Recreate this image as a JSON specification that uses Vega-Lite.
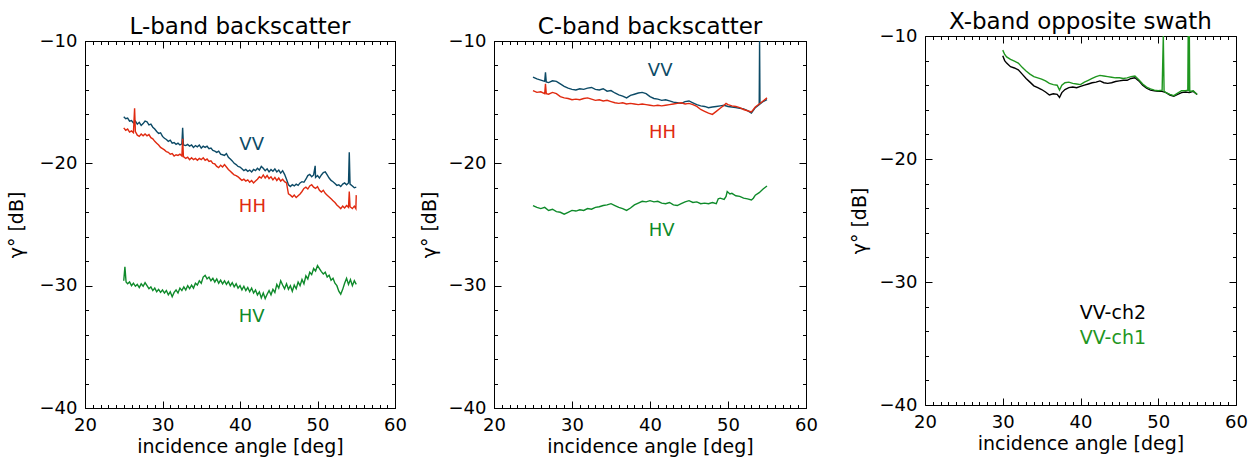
{
  "$schema": "https://vega.github.io/schema/vega-lite/v6.json",
  "background": "white",
  "padding": {"left": 6, "top": 11, "right": 0, "bottom": 0},
  "datasets": {
    "lband": [
      {"s":"VV","x":25.0,"y":-16.2},{"s":"VV","x":25.25,"y":-16.35},{"s":"VV","x":25.5,"y":-16.3},{"s":"VV","x":25.75,"y":-16.55},{"s":"VV","x":26.0,"y":-16.5},{"s":"VV","x":26.25,"y":-16.7},{"s":"VV","x":26.5,"y":-16.55},{"s":"VV","x":26.75,"y":-16.8},{"s":"VV","x":27.0,"y":-16.65},{"s":"VV","x":27.25,"y":-16.9},{"s":"VV","x":27.5,"y":-16.75},{"s":"VV","x":27.75,"y":-16.55},{"s":"VV","x":28.0,"y":-16.6},{"s":"VV","x":28.25,"y":-16.85},{"s":"VV","x":28.5,"y":-16.8},{"s":"VV","x":28.75,"y":-17.05},{"s":"VV","x":29.0,"y":-17.2},{"s":"VV","x":29.25,"y":-17.4},{"s":"VV","x":29.5,"y":-17.55},{"s":"VV","x":29.75,"y":-17.5},{"s":"VV","x":30.0,"y":-17.8},{"s":"VV","x":30.25,"y":-17.95},{"s":"VV","x":30.5,"y":-18.05},{"s":"VV","x":30.75,"y":-18.2},{"s":"VV","x":31.0,"y":-18.1},{"s":"VV","x":31.25,"y":-18.35},{"s":"VV","x":31.5,"y":-18.3},{"s":"VV","x":31.75,"y":-18.45},{"s":"VV","x":32.0,"y":-18.35},{"s":"VV","x":32.25,"y":-18.5},{"s":"VV","x":32.5,"y":-18.4},{"s":"VV","x":32.6,"y":-17.1},{"s":"VV","x":32.7,"y":-18.5},{"s":"VV","x":33.0,"y":-18.55},{"s":"VV","x":33.25,"y":-18.45},{"s":"VV","x":33.5,"y":-18.6},{"s":"VV","x":33.75,"y":-18.5},{"s":"VV","x":34.0,"y":-18.7},{"s":"VV","x":34.25,"y":-18.55},{"s":"VV","x":34.5,"y":-18.65},{"s":"VV","x":34.75,"y":-18.5},{"s":"VV","x":35.0,"y":-18.75},{"s":"VV","x":35.25,"y":-18.6},{"s":"VV","x":35.5,"y":-18.7},{"s":"VV","x":35.75,"y":-18.6},{"s":"VV","x":36.0,"y":-18.8},{"s":"VV","x":36.25,"y":-18.75},{"s":"VV","x":36.5,"y":-18.95},{"s":"VV","x":36.75,"y":-19.0},{"s":"VV","x":37.0,"y":-19.1},{"s":"VV","x":37.25,"y":-19.0},{"s":"VV","x":37.5,"y":-19.25},{"s":"VV","x":37.75,"y":-19.3},{"s":"VV","x":38.0,"y":-19.35},{"s":"VV","x":38.25,"y":-19.2},{"s":"VV","x":38.5,"y":-19.5},{"s":"VV","x":38.75,"y":-19.65},{"s":"VV","x":39.0,"y":-19.8},{"s":"VV","x":39.25,"y":-20.0},{"s":"VV","x":39.5,"y":-20.1},{"s":"VV","x":39.75,"y":-20.25},{"s":"VV","x":40.0,"y":-20.3},{"s":"VV","x":40.25,"y":-20.45},{"s":"VV","x":40.5,"y":-20.6},{"s":"VV","x":40.75,"y":-20.5},{"s":"VV","x":41.0,"y":-20.65},{"s":"VV","x":41.25,"y":-20.55},{"s":"VV","x":41.5,"y":-20.7},{"s":"VV","x":41.75,"y":-20.5},{"s":"VV","x":42.0,"y":-20.6},{"s":"VV","x":42.25,"y":-20.4},{"s":"VV","x":42.5,"y":-20.55},{"s":"VV","x":42.75,"y":-20.25},{"s":"VV","x":43.0,"y":-20.4},{"s":"VV","x":43.25,"y":-20.6},{"s":"VV","x":43.5,"y":-20.45},{"s":"VV","x":43.75,"y":-20.7},{"s":"VV","x":44.0,"y":-20.5},{"s":"VV","x":44.25,"y":-20.65},{"s":"VV","x":44.5,"y":-20.45},{"s":"VV","x":44.75,"y":-20.7},{"s":"VV","x":45.0,"y":-20.55},{"s":"VV","x":45.25,"y":-20.8},{"s":"VV","x":45.5,"y":-20.6},{"s":"VV","x":45.75,"y":-20.9},{"s":"VV","x":46.0,"y":-21.3},{"s":"VV","x":46.25,"y":-21.75},{"s":"VV","x":46.5,"y":-21.9},{"s":"VV","x":46.75,"y":-21.75},{"s":"VV","x":47.0,"y":-21.85},{"s":"VV","x":47.25,"y":-21.7},{"s":"VV","x":47.5,"y":-21.8},{"s":"VV","x":47.75,"y":-21.6},{"s":"VV","x":48.0,"y":-21.5},{"s":"VV","x":48.25,"y":-21.55},{"s":"VV","x":48.5,"y":-21.3},{"s":"VV","x":48.75,"y":-21.0},{"s":"VV","x":49.0,"y":-20.9},{"s":"VV","x":49.25,"y":-21.1},{"s":"VV","x":49.5,"y":-20.95},{"s":"VV","x":49.7,"y":-20.2},{"s":"VV","x":49.75,"y":-21.15},{"s":"VV","x":50.0,"y":-21.0},{"s":"VV","x":50.25,"y":-21.2},{"s":"VV","x":50.5,"y":-20.95},{"s":"VV","x":50.75,"y":-20.75},{"s":"VV","x":51.0,"y":-20.7},{"s":"VV","x":51.25,"y":-20.95},{"s":"VV","x":51.5,"y":-21.2},{"s":"VV","x":51.75,"y":-21.4},{"s":"VV","x":52.0,"y":-21.5},{"s":"VV","x":52.25,"y":-21.65},{"s":"VV","x":52.5,"y":-21.8},{"s":"VV","x":52.75,"y":-21.75},{"s":"VV","x":53.0,"y":-21.9},{"s":"VV","x":53.25,"y":-21.7},{"s":"VV","x":53.5,"y":-21.6},{"s":"VV","x":53.75,"y":-21.75},{"s":"VV","x":54.0,"y":-21.6},{"s":"VV","x":54.1,"y":-19.1},{"s":"VV","x":54.2,"y":-21.7},{"s":"VV","x":54.5,"y":-21.85},{"s":"VV","x":54.75,"y":-22.0},{"s":"VV","x":55.0,"y":-21.95},
      {"s":"HH","x":25.0,"y":-17.1},{"s":"HH","x":25.25,"y":-17.3},{"s":"HH","x":25.5,"y":-17.2},{"s":"HH","x":25.75,"y":-17.45},{"s":"HH","x":26.0,"y":-17.35},{"s":"HH","x":26.25,"y":-17.5},{"s":"HH","x":26.4,"y":-15.5},{"s":"HH","x":26.5,"y":-17.4},{"s":"HH","x":26.75,"y":-17.7},{"s":"HH","x":27.0,"y":-17.8},{"s":"HH","x":27.25,"y":-17.6},{"s":"HH","x":27.5,"y":-17.75},{"s":"HH","x":27.75,"y":-17.6},{"s":"HH","x":28.0,"y":-17.75},{"s":"HH","x":28.25,"y":-17.65},{"s":"HH","x":28.5,"y":-17.9},{"s":"HH","x":28.75,"y":-18.0},{"s":"HH","x":29.0,"y":-18.2},{"s":"HH","x":29.25,"y":-18.35},{"s":"HH","x":29.5,"y":-18.5},{"s":"HH","x":29.75,"y":-18.7},{"s":"HH","x":30.0,"y":-18.8},{"s":"HH","x":30.25,"y":-18.9},{"s":"HH","x":30.5,"y":-19.05},{"s":"HH","x":30.75,"y":-19.1},{"s":"HH","x":31.0,"y":-19.25},{"s":"HH","x":31.25,"y":-19.2},{"s":"HH","x":31.5,"y":-19.4},{"s":"HH","x":31.75,"y":-19.3},{"s":"HH","x":32.0,"y":-19.35},{"s":"HH","x":32.25,"y":-19.25},{"s":"HH","x":32.5,"y":-19.4},{"s":"HH","x":32.6,"y":-18.0},{"s":"HH","x":32.7,"y":-19.45},{"s":"HH","x":33.0,"y":-19.6},{"s":"HH","x":33.25,"y":-19.5},{"s":"HH","x":33.5,"y":-19.7},{"s":"HH","x":33.75,"y":-19.55},{"s":"HH","x":34.0,"y":-19.7},{"s":"HH","x":34.25,"y":-19.6},{"s":"HH","x":34.5,"y":-19.75},{"s":"HH","x":34.75,"y":-19.6},{"s":"HH","x":35.0,"y":-19.7},{"s":"HH","x":35.25,"y":-19.55},{"s":"HH","x":35.5,"y":-19.75},{"s":"HH","x":35.75,"y":-19.65},{"s":"HH","x":36.0,"y":-19.85},{"s":"HH","x":36.25,"y":-19.8},{"s":"HH","x":36.5,"y":-20.0},{"s":"HH","x":36.75,"y":-20.05},{"s":"HH","x":37.0,"y":-20.25},{"s":"HH","x":37.25,"y":-20.35},{"s":"HH","x":37.5,"y":-20.15},{"s":"HH","x":37.75,"y":-20.3},{"s":"HH","x":38.0,"y":-20.1},{"s":"HH","x":38.25,"y":-20.3},{"s":"HH","x":38.5,"y":-20.5},{"s":"HH","x":38.75,"y":-20.65},{"s":"HH","x":39.0,"y":-20.8},{"s":"HH","x":39.25,"y":-20.95},{"s":"HH","x":39.5,"y":-21.0},{"s":"HH","x":39.75,"y":-21.1},{"s":"HH","x":40.0,"y":-21.25},{"s":"HH","x":40.25,"y":-21.4},{"s":"HH","x":40.5,"y":-21.3},{"s":"HH","x":40.75,"y":-21.45},{"s":"HH","x":41.0,"y":-21.35},{"s":"HH","x":41.25,"y":-21.55},{"s":"HH","x":41.5,"y":-21.4},{"s":"HH","x":41.75,"y":-21.6},{"s":"HH","x":42.0,"y":-21.45},{"s":"HH","x":42.25,"y":-21.3},{"s":"HH","x":42.5,"y":-21.1},{"s":"HH","x":42.75,"y":-21.2},{"s":"HH","x":43.0,"y":-20.95},{"s":"HH","x":43.25,"y":-21.2},{"s":"HH","x":43.5,"y":-21.0},{"s":"HH","x":43.75,"y":-21.25},{"s":"HH","x":44.0,"y":-21.1},{"s":"HH","x":44.25,"y":-21.35},{"s":"HH","x":44.5,"y":-21.15},{"s":"HH","x":44.75,"y":-21.4},{"s":"HH","x":45.0,"y":-21.2},{"s":"HH","x":45.25,"y":-21.45},{"s":"HH","x":45.5,"y":-21.3},{"s":"HH","x":45.75,"y":-21.5},{"s":"HH","x":46.0,"y":-21.6},{"s":"HH","x":46.25,"y":-22.5},{"s":"HH","x":46.5,"y":-22.6},{"s":"HH","x":46.75,"y":-22.75},{"s":"HH","x":47.0,"y":-22.6},{"s":"HH","x":47.25,"y":-22.8},{"s":"HH","x":47.5,"y":-22.65},{"s":"HH","x":47.75,"y":-22.5},{"s":"HH","x":48.0,"y":-22.3},{"s":"HH","x":48.25,"y":-22.05},{"s":"HH","x":48.5,"y":-21.95},{"s":"HH","x":48.75,"y":-22.1},{"s":"HH","x":49.0,"y":-21.85},{"s":"HH","x":49.25,"y":-21.75},{"s":"HH","x":49.5,"y":-21.95},{"s":"HH","x":49.75,"y":-22.05},{"s":"HH","x":50.0,"y":-21.9},{"s":"HH","x":50.25,"y":-22.2},{"s":"HH","x":50.5,"y":-22.35},{"s":"HH","x":50.75,"y":-22.2},{"s":"HH","x":51.0,"y":-22.45},{"s":"HH","x":51.25,"y":-22.6},{"s":"HH","x":51.5,"y":-22.75},{"s":"HH","x":51.75,"y":-22.9},{"s":"HH","x":52.0,"y":-23.05},{"s":"HH","x":52.25,"y":-23.2},{"s":"HH","x":52.5,"y":-23.4},{"s":"HH","x":52.75,"y":-23.55},{"s":"HH","x":53.0,"y":-23.7},{"s":"HH","x":53.25,"y":-23.5},{"s":"HH","x":53.5,"y":-23.65},{"s":"HH","x":53.75,"y":-23.45},{"s":"HH","x":54.0,"y":-23.6},{"s":"HH","x":54.1,"y":-22.3},{"s":"HH","x":54.2,"y":-23.55},{"s":"HH","x":54.5,"y":-23.7},{"s":"HH","x":54.75,"y":-23.5},{"s":"HH","x":54.95,"y":-23.7},{"s":"HH","x":55.0,"y":-22.6},
      {"s":"HV","x":25.0,"y":-29.6},{"s":"HV","x":25.15,"y":-28.45},{"s":"HV","x":25.3,"y":-29.7},{"s":"HV","x":25.5,"y":-29.85},{"s":"HV","x":25.75,"y":-29.7},{"s":"HV","x":26.0,"y":-30.0},{"s":"HV","x":26.25,"y":-29.8},{"s":"HV","x":26.5,"y":-30.05},{"s":"HV","x":26.75,"y":-29.9},{"s":"HV","x":27.0,"y":-30.15},{"s":"HV","x":27.25,"y":-29.85},{"s":"HV","x":27.5,"y":-30.05},{"s":"HV","x":27.75,"y":-29.75},{"s":"HV","x":28.0,"y":-30.0},{"s":"HV","x":28.25,"y":-30.25},{"s":"HV","x":28.5,"y":-30.1},{"s":"HV","x":28.75,"y":-30.4},{"s":"HV","x":29.0,"y":-30.2},{"s":"HV","x":29.25,"y":-30.5},{"s":"HV","x":29.5,"y":-30.3},{"s":"HV","x":29.75,"y":-30.55},{"s":"HV","x":30.0,"y":-30.35},{"s":"HV","x":30.25,"y":-30.6},{"s":"HV","x":30.5,"y":-30.4},{"s":"HV","x":30.75,"y":-30.75},{"s":"HV","x":31.0,"y":-30.5},{"s":"HV","x":31.25,"y":-30.9},{"s":"HV","x":31.5,"y":-30.55},{"s":"HV","x":31.75,"y":-30.35},{"s":"HV","x":32.0,"y":-30.6},{"s":"HV","x":32.25,"y":-30.2},{"s":"HV","x":32.5,"y":-30.4},{"s":"HV","x":32.75,"y":-30.1},{"s":"HV","x":33.0,"y":-30.35},{"s":"HV","x":33.25,"y":-30.0},{"s":"HV","x":33.5,"y":-30.25},{"s":"HV","x":33.75,"y":-29.95},{"s":"HV","x":34.0,"y":-30.2},{"s":"HV","x":34.25,"y":-29.8},{"s":"HV","x":34.5,"y":-29.95},{"s":"HV","x":34.75,"y":-29.6},{"s":"HV","x":35.0,"y":-29.8},{"s":"HV","x":35.25,"y":-29.3},{"s":"HV","x":35.5,"y":-29.15},{"s":"HV","x":35.75,"y":-29.45},{"s":"HV","x":36.0,"y":-29.3},{"s":"HV","x":36.25,"y":-29.6},{"s":"HV","x":36.5,"y":-29.4},{"s":"HV","x":36.75,"y":-29.7},{"s":"HV","x":37.0,"y":-29.45},{"s":"HV","x":37.25,"y":-29.8},{"s":"HV","x":37.5,"y":-29.55},{"s":"HV","x":37.75,"y":-29.85},{"s":"HV","x":38.0,"y":-29.6},{"s":"HV","x":38.25,"y":-29.9},{"s":"HV","x":38.5,"y":-29.65},{"s":"HV","x":38.75,"y":-30.0},{"s":"HV","x":39.0,"y":-29.75},{"s":"HV","x":39.25,"y":-30.1},{"s":"HV","x":39.5,"y":-29.85},{"s":"HV","x":39.75,"y":-30.2},{"s":"HV","x":40.0,"y":-30.0},{"s":"HV","x":40.25,"y":-30.35},{"s":"HV","x":40.5,"y":-30.05},{"s":"HV","x":40.75,"y":-30.4},{"s":"HV","x":41.0,"y":-30.15},{"s":"HV","x":41.25,"y":-30.5},{"s":"HV","x":41.5,"y":-30.2},{"s":"HV","x":41.75,"y":-30.6},{"s":"HV","x":42.0,"y":-30.35},{"s":"HV","x":42.25,"y":-30.75},{"s":"HV","x":42.5,"y":-30.5},{"s":"HV","x":42.75,"y":-31.0},{"s":"HV","x":43.0,"y":-30.6},{"s":"HV","x":43.25,"y":-31.05},{"s":"HV","x":43.5,"y":-30.7},{"s":"HV","x":43.75,"y":-30.4},{"s":"HV","x":44.0,"y":-30.75},{"s":"HV","x":44.25,"y":-30.3},{"s":"HV","x":44.5,"y":-30.55},{"s":"HV","x":44.75,"y":-29.9},{"s":"HV","x":45.0,"y":-30.2},{"s":"HV","x":45.25,"y":-29.6},{"s":"HV","x":45.5,"y":-29.95},{"s":"HV","x":45.75,"y":-30.25},{"s":"HV","x":46.0,"y":-29.85},{"s":"HV","x":46.25,"y":-30.3},{"s":"HV","x":46.5,"y":-30.0},{"s":"HV","x":46.75,"y":-30.45},{"s":"HV","x":47.0,"y":-29.95},{"s":"HV","x":47.25,"y":-30.25},{"s":"HV","x":47.5,"y":-29.7},{"s":"HV","x":47.75,"y":-30.0},{"s":"HV","x":48.0,"y":-29.5},{"s":"HV","x":48.25,"y":-29.85},{"s":"HV","x":48.5,"y":-29.2},{"s":"HV","x":48.75,"y":-29.45},{"s":"HV","x":49.0,"y":-28.9},{"s":"HV","x":49.25,"y":-29.1},{"s":"HV","x":49.5,"y":-28.6},{"s":"HV","x":49.75,"y":-28.8},{"s":"HV","x":50.0,"y":-28.35},{"s":"HV","x":50.25,"y":-28.6},{"s":"HV","x":50.5,"y":-28.85},{"s":"HV","x":50.75,"y":-29.05},{"s":"HV","x":51.0,"y":-28.9},{"s":"HV","x":51.25,"y":-29.3},{"s":"HV","x":51.5,"y":-29.15},{"s":"HV","x":51.75,"y":-29.55},{"s":"HV","x":52.0,"y":-29.4},{"s":"HV","x":52.25,"y":-29.8},{"s":"HV","x":52.5,"y":-30.0},{"s":"HV","x":52.75,"y":-30.45},{"s":"HV","x":53.0,"y":-30.7},{"s":"HV","x":53.25,"y":-30.3},{"s":"HV","x":53.5,"y":-29.8},{"s":"HV","x":53.75,"y":-29.4},{"s":"HV","x":54.0,"y":-29.9},{"s":"HV","x":54.25,"y":-29.5},{"s":"HV","x":54.5,"y":-30.0},{"s":"HV","x":54.75,"y":-29.6},{"s":"HV","x":55.0,"y":-29.9}
    ],
    "cband": [
      {"s":"VV","x":25.0,"y":-12.95},{"s":"VV","x":25.5,"y":-13.1},{"s":"VV","x":26.0,"y":-13.2},{"s":"VV","x":26.5,"y":-13.3},{"s":"VV","x":26.6,"y":-12.55},{"s":"VV","x":26.7,"y":-13.35},{"s":"VV","x":27.0,"y":-13.4},{"s":"VV","x":27.5,"y":-13.25},{"s":"VV","x":28.0,"y":-13.3},{"s":"VV","x":28.5,"y":-13.5},{"s":"VV","x":29.0,"y":-13.7},{"s":"VV","x":29.5,"y":-13.85},{"s":"VV","x":30.0,"y":-13.95},{"s":"VV","x":30.5,"y":-14.0},{"s":"VV","x":31.0,"y":-13.9},{"s":"VV","x":31.5,"y":-13.95},{"s":"VV","x":32.0,"y":-13.85},{"s":"VV","x":32.5,"y":-13.8},{"s":"VV","x":33.0,"y":-13.95},{"s":"VV","x":33.5,"y":-14.0},{"s":"VV","x":34.0,"y":-13.9},{"s":"VV","x":34.5,"y":-14.1},{"s":"VV","x":35.0,"y":-14.05},{"s":"VV","x":35.5,"y":-14.25},{"s":"VV","x":36.0,"y":-14.4},{"s":"VV","x":36.5,"y":-14.5},{"s":"VV","x":37.0,"y":-14.65},{"s":"VV","x":37.5,"y":-14.45},{"s":"VV","x":38.0,"y":-14.35},{"s":"VV","x":38.5,"y":-14.25},{"s":"VV","x":39.0,"y":-14.2},{"s":"VV","x":39.5,"y":-14.3},{"s":"VV","x":40.0,"y":-14.55},{"s":"VV","x":40.5,"y":-14.7},{"s":"VV","x":41.0,"y":-14.75},{"s":"VV","x":41.5,"y":-14.85},{"s":"VV","x":42.0,"y":-14.8},{"s":"VV","x":42.5,"y":-14.9},{"s":"VV","x":43.0,"y":-15.0},{"s":"VV","x":43.5,"y":-15.05},{"s":"VV","x":44.0,"y":-15.1},{"s":"VV","x":44.5,"y":-14.95},{"s":"VV","x":45.0,"y":-14.9},{"s":"VV","x":45.5,"y":-15.05},{"s":"VV","x":46.0,"y":-15.2},{"s":"VV","x":46.5,"y":-15.3},{"s":"VV","x":47.0,"y":-15.35},{"s":"VV","x":47.5,"y":-15.45},{"s":"VV","x":48.0,"y":-15.4},{"s":"VV","x":48.5,"y":-15.35},{"s":"VV","x":49.0,"y":-15.3},{"s":"VV","x":49.5,"y":-15.25},{"s":"VV","x":50.0,"y":-15.35},{"s":"VV","x":50.5,"y":-15.4},{"s":"VV","x":51.0,"y":-15.45},{"s":"VV","x":51.5,"y":-15.5},{"s":"VV","x":52.0,"y":-15.55},{"s":"VV","x":52.5,"y":-15.7},{"s":"VV","x":53.0,"y":-15.9},{"s":"VV","x":53.5,"y":-15.45},{"s":"VV","x":54.0,"y":-15.2},{"s":"VV","x":54.05,"y":-10},{"s":"VV","x":54.1,"y":-15.15},{"s":"VV","x":54.5,"y":-14.95},{"s":"VV","x":55.0,"y":-14.8},
      {"s":"HH","x":25.0,"y":-14.05},{"s":"HH","x":25.5,"y":-14.2},{"s":"HH","x":26.0,"y":-14.15},{"s":"HH","x":26.5,"y":-14.3},{"s":"HH","x":26.6,"y":-13.5},{"s":"HH","x":26.7,"y":-14.3},{"s":"HH","x":27.0,"y":-14.35},{"s":"HH","x":27.5,"y":-14.2},{"s":"HH","x":28.0,"y":-14.3},{"s":"HH","x":28.5,"y":-14.55},{"s":"HH","x":29.0,"y":-14.65},{"s":"HH","x":29.5,"y":-14.7},{"s":"HH","x":30.0,"y":-14.8},{"s":"HH","x":30.5,"y":-14.75},{"s":"HH","x":31.0,"y":-14.8},{"s":"HH","x":31.5,"y":-14.7},{"s":"HH","x":32.0,"y":-14.65},{"s":"HH","x":32.5,"y":-14.75},{"s":"HH","x":33.0,"y":-14.85},{"s":"HH","x":33.5,"y":-14.8},{"s":"HH","x":34.0,"y":-14.9},{"s":"HH","x":34.5,"y":-14.85},{"s":"HH","x":35.0,"y":-14.95},{"s":"HH","x":35.5,"y":-15.05},{"s":"HH","x":36.0,"y":-15.1},{"s":"HH","x":36.5,"y":-15.05},{"s":"HH","x":37.0,"y":-15.15},{"s":"HH","x":37.5,"y":-15.1},{"s":"HH","x":38.0,"y":-15.15},{"s":"HH","x":38.5,"y":-15.2},{"s":"HH","x":39.0,"y":-15.15},{"s":"HH","x":39.5,"y":-15.2},{"s":"HH","x":40.0,"y":-15.25},{"s":"HH","x":40.5,"y":-15.3},{"s":"HH","x":41.0,"y":-15.25},{"s":"HH","x":41.5,"y":-15.3},{"s":"HH","x":42.0,"y":-15.25},{"s":"HH","x":42.5,"y":-15.2},{"s":"HH","x":43.0,"y":-15.15},{"s":"HH","x":43.5,"y":-15.1},{"s":"HH","x":44.0,"y":-15.05},{"s":"HH","x":44.5,"y":-15.15},{"s":"HH","x":45.0,"y":-15.1},{"s":"HH","x":45.5,"y":-15.2},{"s":"HH","x":46.0,"y":-15.35},{"s":"HH","x":46.5,"y":-15.6},{"s":"HH","x":47.0,"y":-15.75},{"s":"HH","x":47.5,"y":-15.9},{"s":"HH","x":48.0,"y":-16.0},{"s":"HH","x":48.5,"y":-15.75},{"s":"HH","x":49.0,"y":-15.5},{"s":"HH","x":49.5,"y":-15.25},{"s":"HH","x":49.75,"y":-15.1},{"s":"HH","x":50.0,"y":-15.2},{"s":"HH","x":50.5,"y":-15.3},{"s":"HH","x":51.0,"y":-15.35},{"s":"HH","x":51.5,"y":-15.45},{"s":"HH","x":52.0,"y":-15.6},{"s":"HH","x":52.5,"y":-15.7},{"s":"HH","x":53.0,"y":-15.8},{"s":"HH","x":53.5,"y":-15.4},{"s":"HH","x":54.0,"y":-15.15},{"s":"HH","x":54.5,"y":-14.9},{"s":"HH","x":55.0,"y":-14.65},
      {"s":"HV","x":25.0,"y":-23.45},{"s":"HV","x":25.5,"y":-23.6},{"s":"HV","x":26.0,"y":-23.7},{"s":"HV","x":26.5,"y":-23.6},{"s":"HV","x":27.0,"y":-23.85},{"s":"HV","x":27.5,"y":-23.75},{"s":"HV","x":28.0,"y":-23.95},{"s":"HV","x":28.5,"y":-24.0},{"s":"HV","x":29.0,"y":-24.15},{"s":"HV","x":29.5,"y":-24.0},{"s":"HV","x":30.0,"y":-23.85},{"s":"HV","x":30.5,"y":-23.9},{"s":"HV","x":31.0,"y":-23.8},{"s":"HV","x":31.5,"y":-23.85},{"s":"HV","x":32.0,"y":-23.7},{"s":"HV","x":32.5,"y":-23.75},{"s":"HV","x":33.0,"y":-23.6},{"s":"HV","x":33.5,"y":-23.55},{"s":"HV","x":34.0,"y":-23.45},{"s":"HV","x":34.5,"y":-23.4},{"s":"HV","x":35.0,"y":-23.3},{"s":"HV","x":35.5,"y":-23.45},{"s":"HV","x":36.0,"y":-23.6},{"s":"HV","x":36.5,"y":-23.7},{"s":"HV","x":37.0,"y":-23.85},{"s":"HV","x":37.5,"y":-23.65},{"s":"HV","x":38.0,"y":-23.4},{"s":"HV","x":38.5,"y":-23.25},{"s":"HV","x":39.0,"y":-23.1},{"s":"HV","x":39.5,"y":-23.15},{"s":"HV","x":40.0,"y":-23.05},{"s":"HV","x":40.5,"y":-23.15},{"s":"HV","x":41.0,"y":-23.1},{"s":"HV","x":41.5,"y":-23.25},{"s":"HV","x":42.0,"y":-23.3},{"s":"HV","x":42.5,"y":-23.2},{"s":"HV","x":43.0,"y":-23.4},{"s":"HV","x":43.5,"y":-23.45},{"s":"HV","x":44.0,"y":-23.3},{"s":"HV","x":44.5,"y":-23.15},{"s":"HV","x":45.0,"y":-23.05},{"s":"HV","x":45.5,"y":-23.2},{"s":"HV","x":46.0,"y":-23.15},{"s":"HV","x":46.5,"y":-23.3},{"s":"HV","x":47.0,"y":-23.25},{"s":"HV","x":47.5,"y":-23.3},{"s":"HV","x":48.0,"y":-23.2},{"s":"HV","x":48.5,"y":-23.3},{"s":"HV","x":48.75,"y":-22.9},{"s":"HV","x":49.0,"y":-22.85},{"s":"HV","x":49.5,"y":-22.95},{"s":"HV","x":49.75,"y":-22.7},{"s":"HV","x":49.9,"y":-22.3},{"s":"HV","x":50.25,"y":-22.5},{"s":"HV","x":50.5,"y":-22.45},{"s":"HV","x":51.0,"y":-22.65},{"s":"HV","x":51.5,"y":-22.7},{"s":"HV","x":52.0,"y":-22.85},{"s":"HV","x":52.5,"y":-22.9},{"s":"HV","x":53.0,"y":-23.0},{"s":"HV","x":53.25,"y":-22.85},{"s":"HV","x":53.5,"y":-22.6},{"s":"HV","x":54.0,"y":-22.4},{"s":"HV","x":54.5,"y":-22.1},{"s":"HV","x":55.0,"y":-21.85}
    ],
    "xband": [
      {"s":"VV-ch2","x":30.0,"y":-11.6},{"s":"VV-ch2","x":30.25,"y":-12.0},{"s":"VV-ch2","x":30.5,"y":-12.2},{"s":"VV-ch2","x":31.0,"y":-12.5},{"s":"VV-ch2","x":31.5,"y":-12.6},{"s":"VV-ch2","x":32.0,"y":-12.75},{"s":"VV-ch2","x":32.5,"y":-13.1},{"s":"VV-ch2","x":33.0,"y":-13.45},{"s":"VV-ch2","x":33.5,"y":-13.75},{"s":"VV-ch2","x":34.0,"y":-14.05},{"s":"VV-ch2","x":34.5,"y":-14.2},{"s":"VV-ch2","x":35.0,"y":-14.35},{"s":"VV-ch2","x":35.5,"y":-14.55},{"s":"VV-ch2","x":36.0,"y":-14.8},{"s":"VV-ch2","x":36.5,"y":-14.7},{"s":"VV-ch2","x":37.0,"y":-14.75},{"s":"VV-ch2","x":37.3,"y":-15.0},{"s":"VV-ch2","x":37.6,"y":-14.6},{"s":"VV-ch2","x":38.0,"y":-14.35},{"s":"VV-ch2","x":38.5,"y":-14.2},{"s":"VV-ch2","x":39.0,"y":-14.15},{"s":"VV-ch2","x":39.5,"y":-14.2},{"s":"VV-ch2","x":40.0,"y":-14.1},{"s":"VV-ch2","x":40.5,"y":-14.0},{"s":"VV-ch2","x":41.0,"y":-13.9},{"s":"VV-ch2","x":41.5,"y":-13.8},{"s":"VV-ch2","x":42.0,"y":-13.75},{"s":"VV-ch2","x":42.5,"y":-13.65},{"s":"VV-ch2","x":43.0,"y":-13.8},{"s":"VV-ch2","x":43.5,"y":-13.85},{"s":"VV-ch2","x":44.0,"y":-13.8},{"s":"VV-ch2","x":44.5,"y":-13.7},{"s":"VV-ch2","x":45.0,"y":-13.65},{"s":"VV-ch2","x":45.5,"y":-13.6},{"s":"VV-ch2","x":46.0,"y":-13.6},{"s":"VV-ch2","x":46.5,"y":-13.45},{"s":"VV-ch2","x":47.0,"y":-13.4},{"s":"VV-ch2","x":47.5,"y":-13.65},{"s":"VV-ch2","x":48.0,"y":-14.0},{"s":"VV-ch2","x":48.5,"y":-14.25},{"s":"VV-ch2","x":49.0,"y":-14.4},{"s":"VV-ch2","x":49.5,"y":-14.45},{"s":"VV-ch2","x":50.0,"y":-14.5},{"s":"VV-ch2","x":50.5,"y":-14.5},{"s":"VV-ch2","x":51.0,"y":-14.6},{"s":"VV-ch2","x":51.5,"y":-14.8},{"s":"VV-ch2","x":52.0,"y":-14.9},{"s":"VV-ch2","x":52.5,"y":-14.75},{"s":"VV-ch2","x":53.0,"y":-14.6},{"s":"VV-ch2","x":53.5,"y":-14.55},{"s":"VV-ch2","x":54.0,"y":-14.6},{"s":"VV-ch2","x":54.5,"y":-14.5},{"s":"VV-ch2","x":55.0,"y":-14.75},
      {"s":"VV-ch1","x":30.0,"y":-11.15},{"s":"VV-ch1","x":30.25,"y":-11.5},{"s":"VV-ch1","x":30.5,"y":-11.7},{"s":"VV-ch1","x":31.0,"y":-11.9},{"s":"VV-ch1","x":31.5,"y":-12.05},{"s":"VV-ch1","x":32.0,"y":-12.2},{"s":"VV-ch1","x":32.5,"y":-12.55},{"s":"VV-ch1","x":33.0,"y":-12.85},{"s":"VV-ch1","x":33.5,"y":-13.1},{"s":"VV-ch1","x":34.0,"y":-13.3},{"s":"VV-ch1","x":34.5,"y":-13.4},{"s":"VV-ch1","x":35.0,"y":-13.5},{"s":"VV-ch1","x":35.5,"y":-13.65},{"s":"VV-ch1","x":36.0,"y":-13.85},{"s":"VV-ch1","x":36.5,"y":-13.95},{"s":"VV-ch1","x":37.0,"y":-14.0},{"s":"VV-ch1","x":37.3,"y":-14.4},{"s":"VV-ch1","x":37.6,"y":-14.0},{"s":"VV-ch1","x":38.0,"y":-13.8},{"s":"VV-ch1","x":38.5,"y":-13.75},{"s":"VV-ch1","x":39.0,"y":-13.85},{"s":"VV-ch1","x":39.5,"y":-13.9},{"s":"VV-ch1","x":40.0,"y":-13.95},{"s":"VV-ch1","x":40.5,"y":-13.75},{"s":"VV-ch1","x":41.0,"y":-13.6},{"s":"VV-ch1","x":41.5,"y":-13.45},{"s":"VV-ch1","x":42.0,"y":-13.3},{"s":"VV-ch1","x":42.5,"y":-13.2},{"s":"VV-ch1","x":43.0,"y":-13.25},{"s":"VV-ch1","x":43.5,"y":-13.3},{"s":"VV-ch1","x":44.0,"y":-13.35},{"s":"VV-ch1","x":44.5,"y":-13.4},{"s":"VV-ch1","x":45.0,"y":-13.4},{"s":"VV-ch1","x":45.5,"y":-13.45},{"s":"VV-ch1","x":46.0,"y":-13.4},{"s":"VV-ch1","x":46.5,"y":-13.3},{"s":"VV-ch1","x":47.0,"y":-13.25},{"s":"VV-ch1","x":47.5,"y":-13.55},{"s":"VV-ch1","x":48.0,"y":-13.9},{"s":"VV-ch1","x":48.5,"y":-14.15},{"s":"VV-ch1","x":49.0,"y":-14.3},{"s":"VV-ch1","x":49.5,"y":-14.4},{"s":"VV-ch1","x":50.0,"y":-14.45},{"s":"VV-ch1","x":50.5,"y":-14.4},{"s":"VV-ch1","x":50.65,"y":-10},{"s":"VV-ch1","x":50.75,"y":-14.5},{"s":"VV-ch1","x":51.0,"y":-14.6},{"s":"VV-ch1","x":51.5,"y":-14.75},{"s":"VV-ch1","x":52.0,"y":-14.85},{"s":"VV-ch1","x":52.5,"y":-14.65},{"s":"VV-ch1","x":53.0,"y":-14.45},{"s":"VV-ch1","x":53.5,"y":-14.45},{"s":"VV-ch1","x":53.8,"y":-14.4},{"s":"VV-ch1","x":53.85,"y":-10},{"s":"VV-ch1","x":53.9,"y":-14.5},{"s":"VV-ch1","x":54.0,"y":-10},{"s":"VV-ch1","x":54.05,"y":-14.5},{"s":"VV-ch1","x":54.5,"y":-14.45},{"s":"VV-ch1","x":55.0,"y":-14.75}
    ],
    "llab": [
      {"s":"VV","x":41.5,"y":-18.5},{"s":"HH","x":41.6,"y":-23.6},{"s":"HV","x":41.5,"y":-32.55}
    ],
    "clab": [
      {"s":"VV","x":41.3,"y":-12.45},{"s":"HH","x":41.6,"y":-17.55},{"s":"HV","x":41.5,"y":-25.5}
    ],
    "xlab": [
      {"s":"VV-ch2","x":39.9,"y":-32.5},{"s":"VV-ch1","x":39.9,"y":-34.55}
    ]
  },
  "hconcat": [
    {
      "width": 310,
      "height": 367,
      "title": {"text": "L-band backscatter", "offset": -7},
      "layer": [
        {
          "data": {"name": "lband"},
          "mark": {"type": "line", "strokeWidth": 1.4},
          "encoding": {
            "x": {"field": "x", "type": "quantitative", "scale": {"domain": [20, 60], "nice": false, "zero": false},
              "axis": {"orient": "bottom", "title": "incidence angle [deg]", "titlePadding": 0, "values": [20,21,22,23,24,25,26,27,28,29,30,31,32,33,34,35,36,37,38,39,40,41,42,43,44,45,46,47,48,49,50,51,52,53,54,55,56,57,58,59,60], "labelExpr": "datum.value % 10 === 0 ? datum.label : ''", "tickSize": {"condition": {"test": "datum.value % 10 === 0", "value": -7}, "value": -3.5}}},
            "y": {"field": "y", "type": "quantitative", "scale": {"domain": [-40, -10], "nice": false, "zero": false},
              "axis": {"orient": "left", "title": "γ° [dB]", "titlePadding": 13, "values": [-40,-38,-36,-34,-32,-30,-28,-26,-24,-22,-20,-18,-16,-14,-12,-10], "labelExpr": "datum.value % 10 === 0 ? datum.label : ''", "tickSize": {"condition": {"test": "datum.value % 10 === 0", "value": -7}, "value": -3.5}}},
            "color": {"field": "s", "type": "nominal", "legend": null,
              "scale": {"domain": ["VV","HH","HV","VV-ch2","VV-ch1"], "range": ["#0c4a66","#e02a10","#0e8a2a","#000000","#1f961f"]}}
          }
        },
        {
          "data": {"name": "llab"},
          "mark": {"type": "point", "opacity": 0},
          "encoding": {
            "x": {"field": "x", "type": "quantitative", "scale": {"domain": [20, 60], "nice": false, "zero": false},
              "axis": {"orient": "top", "title": null, "labels": false, "values": [20,21,22,23,24,25,26,27,28,29,30,31,32,33,34,35,36,37,38,39,40,41,42,43,44,45,46,47,48,49,50,51,52,53,54,55,56,57,58,59,60], "tickSize": {"condition": {"test": "datum.value % 10 === 0", "value": -7}, "value": -3.5}}},
            "y": {"field": "y", "type": "quantitative", "scale": {"domain": [-40, -10], "nice": false, "zero": false},
              "axis": {"orient": "right", "title": null, "labels": false, "values": [-40,-38,-36,-34,-32,-30,-28,-26,-24,-22,-20,-18,-16,-14,-12,-10], "tickSize": {"condition": {"test": "datum.value % 10 === 0", "value": -7}, "value": -3.5}}}
          }
        },
        {
          "data": {"name": "llab"},
          "mark": {"type": "text", "fontSize": 18, "align": "center", "baseline": "middle"},
          "encoding": {
            "x": {"field": "x", "type": "quantitative", "axis": null},
            "y": {"field": "y", "type": "quantitative", "axis": null},
            "text": {"field": "s"},
            "color": {"field": "s", "type": "nominal", "legend": null,
              "scale": {"domain": ["VV","HH","HV","VV-ch2","VV-ch1"], "range": ["#0c4a66","#e02a10","#0e8a2a","#000000","#1f961f"]}}
          }
        }
      ],
      "resolve": {"axis": {"x": "independent", "y": "independent"}}
    },
    {
      "spacing": 32,
      "hconcat": [
        {
          "width": 312,
          "height": 367,
          "title": {"text": "C-band backscatter", "offset": -7},
          "layer": [
            {
              "data": {"name": "cband"},
              "mark": {"type": "line", "strokeWidth": 1.4},
              "encoding": {
                "x": {"field": "x", "type": "quantitative", "scale": {"domain": [20, 60], "nice": false, "zero": false},
                  "axis": {"orient": "bottom", "title": "incidence angle [deg]", "titlePadding": 0, "values": [20,21,22,23,24,25,26,27,28,29,30,31,32,33,34,35,36,37,38,39,40,41,42,43,44,45,46,47,48,49,50,51,52,53,54,55,56,57,58,59,60], "labelExpr": "datum.value % 10 === 0 ? datum.label : ''", "tickSize": {"condition": {"test": "datum.value % 10 === 0", "value": -7}, "value": -3.5}}},
                "y": {"field": "y", "type": "quantitative", "scale": {"domain": [-40, -10], "nice": false, "zero": false},
                  "axis": {"orient": "left", "title": "γ° [dB]", "titlePadding": 9, "values": [-40,-38,-36,-34,-32,-30,-28,-26,-24,-22,-20,-18,-16,-14,-12,-10], "labelExpr": "datum.value % 10 === 0 ? datum.label : ''", "tickSize": {"condition": {"test": "datum.value % 10 === 0", "value": -7}, "value": -3.5}}},
                "color": {"field": "s", "type": "nominal", "legend": null,
                  "scale": {"domain": ["VV","HH","HV","VV-ch2","VV-ch1"], "range": ["#0c4a66","#e02a10","#0e8a2a","#000000","#1f961f"]}}
              }
            },
            {
              "data": {"name": "clab"},
              "mark": {"type": "point", "opacity": 0},
              "encoding": {
                "x": {"field": "x", "type": "quantitative", "scale": {"domain": [20, 60], "nice": false, "zero": false},
                  "axis": {"orient": "top", "title": null, "labels": false, "values": [20,21,22,23,24,25,26,27,28,29,30,31,32,33,34,35,36,37,38,39,40,41,42,43,44,45,46,47,48,49,50,51,52,53,54,55,56,57,58,59,60], "tickSize": {"condition": {"test": "datum.value % 10 === 0", "value": -7}, "value": -3.5}}},
                "y": {"field": "y", "type": "quantitative", "scale": {"domain": [-40, -10], "nice": false, "zero": false},
                  "axis": {"orient": "right", "title": null, "labels": false, "values": [-40,-38,-36,-34,-32,-30,-28,-26,-24,-22,-20,-18,-16,-14,-12,-10], "tickSize": {"condition": {"test": "datum.value % 10 === 0", "value": -7}, "value": -3.5}}}
              }
            },
            {
              "data": {"name": "clab"},
              "mark": {"type": "text", "fontSize": 18, "align": "center", "baseline": "middle"},
              "encoding": {
                "x": {"field": "x", "type": "quantitative", "axis": null},
                "y": {"field": "y", "type": "quantitative", "axis": null},
                "text": {"field": "s"},
                "color": {"field": "s", "type": "nominal", "legend": null,
                  "scale": {"domain": ["VV","HH","HV","VV-ch2","VV-ch1"], "range": ["#0c4a66","#e02a10","#0e8a2a","#000000","#1f961f"]}}
              }
            }
          ],
          "resolve": {"axis": {"x": "independent", "y": "independent"}}
        },
        {
          "width": 311,
          "height": 364,
          "view": {"stroke": null},
          "title": {"text": "X-band opposite swath", "offset": -7},
          "layer": [
            {
              "data": {"name": "xband"},
              "mark": {"type": "line", "strokeWidth": 1.4},
              "encoding": {
                "x": {"field": "x", "type": "quantitative", "scale": {"domain": [20, 60], "nice": false, "zero": false},
                  "axis": {"orient": "bottom", "title": "incidence angle [deg]", "titlePadding": 0, "values": [20,21,22,23,24,25,26,27,28,29,30,31,32,33,34,35,36,37,38,39,40,41,42,43,44,45,46,47,48,49,50,51,52,53,54,55,56,57,58,59,60], "labelExpr": "datum.value % 10 === 0 ? datum.label : ''", "tickSize": {"condition": {"test": "datum.value % 10 === 0", "value": -7}, "value": -3.5}}},
                "y": {"field": "y", "type": "quantitative", "scale": {"domain": [-40, -10], "range": [364, -5], "nice": false, "zero": false},
                  "axis": {"orient": "left", "title": "γ° [dB]", "titlePadding": 10, "values": [-40,-38,-36,-34,-32,-30,-28,-26,-24,-22,-20,-18,-16,-14,-12,-10], "labelExpr": "datum.value % 10 === 0 ? datum.label : ''", "tickSize": {"condition": {"test": "datum.value % 10 === 0", "value": -7}, "value": -3.5}}},
                "color": {"field": "s", "type": "nominal", "legend": null,
                  "scale": {"domain": ["VV","HH","HV","VV-ch2","VV-ch1"], "range": ["#0c4a66","#e02a10","#0e8a2a","#000000","#1f961f"]}}
              }
            },
            {
              "data": {"name": "xlab"},
              "mark": {"type": "point", "opacity": 0},
              "encoding": {
                "x": {"field": "x", "type": "quantitative", "scale": {"domain": [20, 60], "nice": false, "zero": false},
                  "axis": {"orient": "top", "offset": 5, "title": null, "labels": false, "values": [20,21,22,23,24,25,26,27,28,29,30,31,32,33,34,35,36,37,38,39,40,41,42,43,44,45,46,47,48,49,50,51,52,53,54,55,56,57,58,59,60], "tickSize": {"condition": {"test": "datum.value % 10 === 0", "value": -7}, "value": -3.5}}},
                "y": {"field": "y", "type": "quantitative", "scale": {"domain": [-40, -10], "range": [364, -5], "nice": false, "zero": false},
                  "axis": {"orient": "right", "title": null, "labels": false, "values": [-40,-38,-36,-34,-32,-30,-28,-26,-24,-22,-20,-18,-16,-14,-12,-10], "tickSize": {"condition": {"test": "datum.value % 10 === 0", "value": -7}, "value": -3.5}}}
              }
            },
            {
              "data": {"name": "xlab"},
              "mark": {"type": "text", "fontSize": 19, "align": "left", "baseline": "middle"},
              "encoding": {
                "x": {"field": "x", "type": "quantitative", "axis": null},
                "y": {"field": "y", "type": "quantitative", "axis": null},
                "text": {"field": "s"},
                "color": {"field": "s", "type": "nominal", "legend": null,
                  "scale": {"domain": ["VV","HH","HV","VV-ch2","VV-ch1"], "range": ["#0c4a66","#e02a10","#0e8a2a","#000000","#2aa02a"]}}
              }
            }
          ],
          "resolve": {"axis": {"x": "independent", "y": "independent"}}
        }
      ]
    }
  ],
  "spacing": 12,
  "config": {
    "font": "DejaVu Sans",
    "view": {"stroke": "black", "strokeWidth": 1},
    "title": {"font": "DejaVu Sans", "fontSize": 23, "fontWeight": "normal", "color": "black", "anchor": "middle"},
    "text": {"font": "DejaVu Sans"},
    "axis": {
      "grid": false,
      "domainColor": "black",
      "domainWidth": 1,
      "tickColor": "black",
      "tickWidth": 1,
      "labelFont": "DejaVu Sans",
      "labelFontSize": 18,
      "labelColor": "black",
      "labelOverlap": false,
      "labelFlush": false,
      "labelPadding": 15,
      "titleFont": "DejaVu Sans",
      "titleFontSize": 19,
      "titleFontWeight": "normal",
      "titleColor": "black"
    }
  }
}
